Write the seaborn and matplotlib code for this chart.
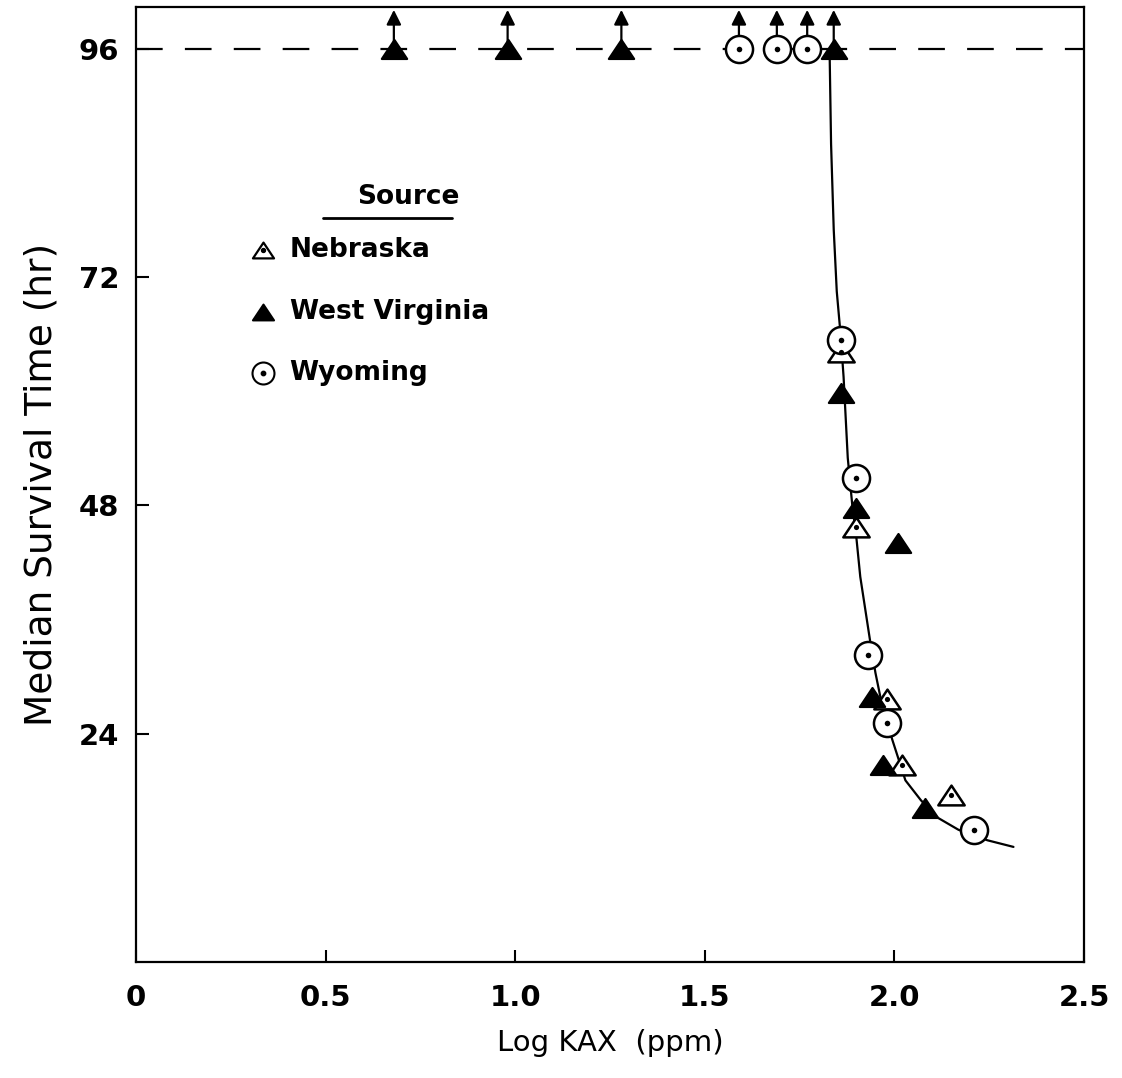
import numpy as np
import pandas as pd
import matplotlib
matplotlib.use("Agg")
import matplotlib.pyplot as plt
from matplotlib.path import Path
from matplotlib.markers import MarkerStyle
import seaborn as sns

# ---------------- data ----------------
neb_x = [1.86, 1.90, 1.98, 2.02, 2.15]
neb_y = [64.1, 45.7, 27.6, 20.7, 17.6]

wv_x = [0.68, 0.98, 1.28, 1.84, 1.86, 1.90, 2.01, 1.94, 1.97, 2.08]
wv_y = [96, 96, 96, 96, 59.8, 47.7, 44.1, 27.9, 20.7, 16.2]

wy_x = [1.59, 1.69, 1.77, 1.86, 1.90, 1.93, 1.98, 2.21]
wy_y = [96, 96, 96, 65.4, 50.9, 32.3, 25.1, 13.9]

curve_x = [1.829, 1.833, 1.840, 1.848, 1.858, 1.866, 1.877, 1.889, 1.900, 1.910,
           1.935, 1.950, 1.970, 1.995, 2.029, 2.070, 2.113, 2.169, 2.245, 2.314]
curve_y = [96, 86.0, 77.0, 70.5, 66.0, 61.5, 53.0, 48.0, 44.5, 40.5,
           34.0, 30.4, 26.5, 23.3, 19.1, 17.0, 15.2, 13.9, 12.8, 12.1]

censor_level = 96
x_ticks = [0, 0.5, 1.0, 1.5, 2.0, 2.5]
x_ticklabels = ["0", "0.5", "1.0", "1.5", "2.0", "2.5"]
y_ticks = [24, 48, 72, 96]
y_ticklabels = ["24", "48", "72", "96"]
legend_labels = ["Nebraska", "West Virginia", "Wyoming"]

# ---------------- style ----------------
sns.set_style("ticks")
plt.rcParams["font.family"] = ["DejaVu Sans"]
plt.rcParams["text.color"] = "black"
plt.rcParams["axes.labelcolor"] = "black"

fig = plt.figure(figsize=(11.22, 10.78), dpi=100)
ax = fig.add_axes([136 / 1122, (1078 - 962) / 1078, (1084 - 136) / 1122, (962 - 7) / 1078])

tri = MarkerStyle(Path([(-1, -0.75), (1, -0.75), (0, 0.75), (-1, -0.75)],
                       [Path.MOVETO, Path.LINETO, Path.LINETO, Path.CLOSEPOLY]))

# dashed reference line
ax.axhline(censor_level, color="black", lw=1.6, dashes=(12, 10), zorder=1)

# fitted curve
cdf = pd.DataFrame({"x": curve_x, "y": curve_y})
sns.lineplot(data=cdf, x="x", y="y", sort=False, estimator=None, color="black",
             lw=1.6, ax=ax, zorder=2)

# arrows for censored points
for xs, ys in [(wv_x, wv_y), (wy_x, wy_y), (neb_x, neb_y)]:
    for x, y in zip(xs, ys):
        if y >= censor_level:
            ax.annotate("", xy=(x, 100.1), xytext=(x, y),
                        arrowprops=dict(arrowstyle="-|>", lw=1.6, color="black",
                                        mutation_scale=22, shrinkA=0, shrinkB=0),
                        zorder=2)

ndf = pd.DataFrame({"x": neb_x, "y": neb_y})
wvdf = pd.DataFrame({"x": wv_x, "y": wv_y})
wydf = pd.DataFrame({"x": wy_x, "y": wy_y})

sns.scatterplot(data=ndf, x="x", y="y", marker=tri, s=360, facecolor="white",
                edgecolor="black", linewidth=1.8, ax=ax, zorder=4)
sns.scatterplot(data=ndf, x="x", y="y", marker="o", s=14, color="black",
                edgecolor="black", linewidth=0, ax=ax, zorder=5)
sns.scatterplot(data=wvdf, x="x", y="y", marker=tri, s=330, facecolor="black",
                edgecolor="black", linewidth=1.6, ax=ax, zorder=4)
sns.scatterplot(data=wydf, x="x", y="y", marker="o", s=380, facecolor="white",
                edgecolor="black", linewidth=1.8, ax=ax, zorder=4)
sns.scatterplot(data=wydf, x="x", y="y", marker="o", s=16, color="black",
                edgecolor="black", linewidth=0, ax=ax, zorder=5)

# ---------------- axes ----------------
ax.set_xlim(0, 2.5)
ax.set_ylim(0, 100.4)
ax.set_xticks(x_ticks)
ax.set_xticklabels(x_ticklabels)
ax.set_yticks(y_ticks)
ax.set_yticklabels(y_ticklabels)
ax.tick_params(axis="both", direction="in", length=9, width=1.5, colors="black",
               labelsize=21)
ax.tick_params(axis="x", pad=16)
ax.tick_params(axis="y", pad=12)
for lab in ax.get_xticklabels() + ax.get_yticklabels():
    lab.set_fontweight("bold")
for sp in ax.spines.values():
    sp.set_visible(True)
    sp.set_linewidth(1.6)
    sp.set_color("black")

ax.set_xlabel("Log KAX  (ppm)", fontsize=21, labelpad=12, color="black")
ax.set_ylabel("Median Survival Time (hr)", fontsize=27, labelpad=14, color="black")

# ---------------- legend (manual) ----------------
ax.text(0.287, 0.801, "Source", transform=ax.transAxes, ha="center", va="center",
        fontsize=19, fontweight="bold", color="black")
ax.plot([0.197, 0.333], [0.779, 0.779], transform=ax.transAxes, color="black", lw=2)
leg_y = [0.7455, 0.681, 0.617]
mk_x = 0.134
ax.scatter([mk_x], [leg_y[0]], marker=tri, s=230, facecolor="white", edgecolor="black",
           linewidth=1.6, transform=ax.transAxes, zorder=4)
ax.scatter([mk_x], [leg_y[0]], marker="o", s=8, color="black", transform=ax.transAxes, zorder=5)
ax.scatter([mk_x], [leg_y[1]], marker=tri, s=230, facecolor="black", edgecolor="black",
           linewidth=1.5, transform=ax.transAxes, zorder=4)
ax.scatter([mk_x], [leg_y[2]], marker="o", s=250, facecolor="white", edgecolor="black",
           linewidth=1.5, transform=ax.transAxes, zorder=4)
ax.scatter([mk_x], [leg_y[2]], marker="o", s=10, color="black", transform=ax.transAxes, zorder=5)
for yy, lab in zip(leg_y, legend_labels):
    ax.text(0.162, yy, lab, transform=ax.transAxes, ha="left", va="center",
            fontsize=19, fontweight="bold", color="black")

fig.savefig("out.png", dpi=100)
